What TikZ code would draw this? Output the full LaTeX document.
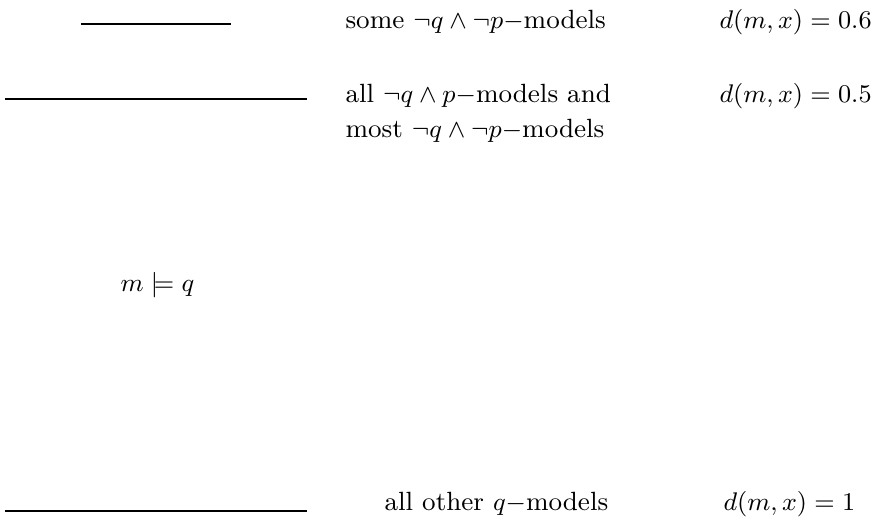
\documentclass[tikz,border=0pt]{standalone}
\usepackage{amsmath,amssymb}
\usepackage{tikz}
\usetikzlibrary{positioning}

\begin{document}
\begin{tikzpicture}[x=0.3528pt, y=-0.3528pt, font=\fontsize{9.3}{11}\selectfont,
  lvl/.style={line width=0.6pt},
  txt/.style={anchor=base west, inner sep=0pt},
  dst/.style={anchor=base west, inner sep=0pt}]
  \useasboundingbox (0,0) rectangle (882,523);
  % levels
  \coordinate (l1a) at (81,24);  \coordinate (l1b) at (231,24);
  \coordinate (l2a) at (5,99);   \coordinate (l2b) at (307,99);
  \coordinate (l3a) at (5,511);  \coordinate (l3b) at (307,511);
  \draw[lvl] (l1a) -- (l1b);
  \draw[lvl] (l2a) -- (l2b);
  \draw[lvl] (l3a) -- (l3b);
  % labels
  \node[txt] (t1) at (345,29) {some $\neg q\wedge\neg p-$models};
  \node[dst] (d1) at (719,29) {$d(m,x)=0.6$};
  \node[txt] (t2) at (345,103) {all $\neg q\wedge p-$models and};
  \node[txt] (t3) at (345,138) {most $\neg q\wedge\neg p-$models};
  \node[dst] (d2) at (719,103) {$d(m,x)=0.5$};
  \node[txt] (mq) at (120,292) {$m\models q$};
  \node[txt] (t4) at (384,511) {all other $q-$models};
  \node[dst] (d4) at (723,511) {$d(m,x)=1$};
\end{tikzpicture}
\end{document}
